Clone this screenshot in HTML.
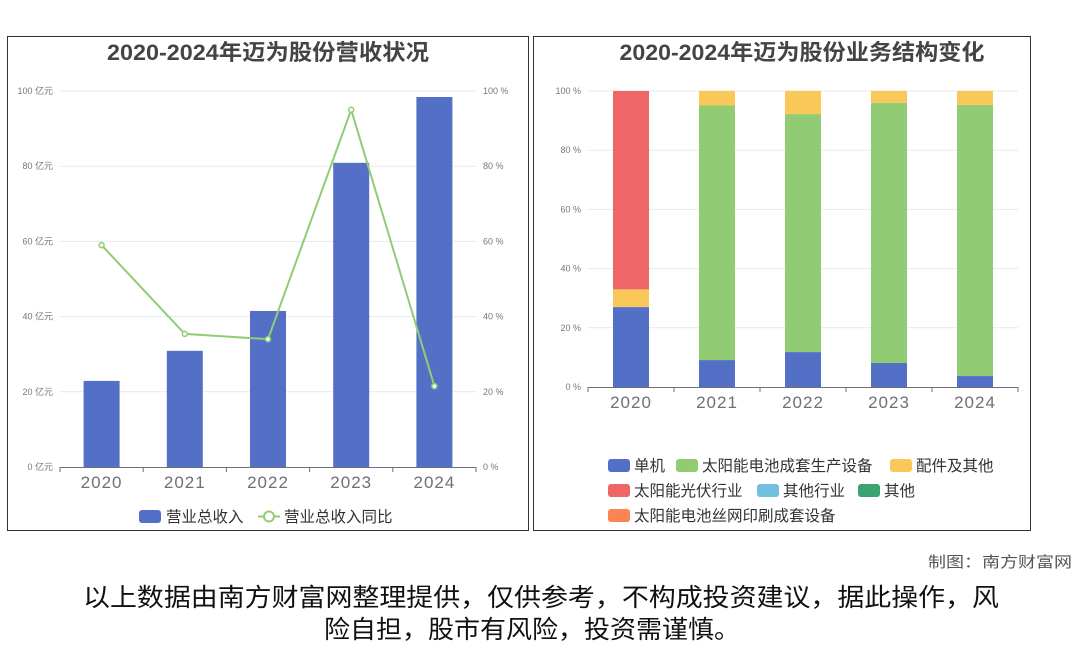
<!DOCTYPE html>
<html><head><meta charset="utf-8">
<style>
body{margin:0;background:#fff;width:1080px;height:646px;overflow:hidden;font-family:"Liberation Sans","Noto Sans CJK SC",sans-serif;}
svg text{font-family:"Liberation Sans","Noto Sans CJK SC",sans-serif;}
</style></head>
<body>
<svg id="c" width="1080" height="646" xmlns="http://www.w3.org/2000/svg">
<rect x="7.5" y="36.5" width="521" height="494" fill="none" stroke="#333" stroke-width="1"/>
<rect x="533.5" y="36.5" width="497" height="494" fill="none" stroke="#333" stroke-width="1"/>
<text x="268" y="60" text-anchor="middle" font-size="22" font-weight="bold" fill="#444" textLength="322" lengthAdjust="spacingAndGlyphs">2020-2024年迈为股份营收状况</text>
<text x="802" y="60" text-anchor="middle" font-size="22" font-weight="bold" fill="#444" textLength="365" lengthAdjust="spacingAndGlyphs">2020-2024年迈为股份业务结构变化</text>
<g id="L"></g><g id="R"></g>
<text x="1072" y="567" text-anchor="end" font-size="15" fill="#555" textLength="144" lengthAdjust="spacingAndGlyphs">制图：南方财富网</text>
<text x="541" y="606" text-anchor="middle" font-size="25" fill="#111" textLength="916" lengthAdjust="spacingAndGlyphs">以上数据由南方财富网整理提供，仅供参考，不构成投资建议，据此操作，风</text>
<text x="532" y="638" text-anchor="middle" font-size="25" fill="#111" textLength="416" lengthAdjust="spacingAndGlyphs">险自担，股市有风险，投资需谨慎。</text>
</svg>
<script>
const years=['2020','2021','2022','2023','2024'];
const revenue=[22.9,30.9,41.5,80.9,98.4];
const revenueYoY=[59.0,35.4,34.0,95.0,21.5];
const leftTicks=[0,20,40,60,80,100];
const shareStandalone=[27,9.1,11.8,8.1,3.7];
const shareCellEquipment=[0,86,80.4,87.9,91.6];
const shareParts=[6,4.9,7.8,4,4.7];
const sharePV=[67,0,0,0,0];
const rightTicks=[0,20,40,60,80,100];
const NS='http://www.w3.org/2000/svg';
function mk(p,t,a){const e=document.createElementNS(NS,t);for(const k in a)e.setAttribute(k,a[k]);p.appendChild(e);return e;}
// left chart
const L=document.getElementById('L');
const lx0=60,lx1=476,ly0=467,ly1=91;
const lx=i=>lx0+(lx1-lx0)/years.length*(i+0.5);
const ly=v=>ly0-(ly0-ly1)*v/100;
leftTicks.forEach(t=>{
 if(t>0){const g=mk(L,'line',{x1:lx0,x2:lx1,y1:ly(t),y2:ly(t),stroke:'#e6e9f2'});
 
 }
 const a=mk(L,'text',{x:lx0-7,y:ly(t)+3,'text-anchor':'end','font-size':9,fill:'#777'});a.textContent=t+' 亿元';
 
 
 const b=mk(L,'text',{x:lx1+7,y:ly(t)+3,'font-size':9,fill:'#777'});b.textContent=t+' %';
 
 
});
revenue.forEach((v,i)=>{
 const r=mk(L,'rect',{x:lx(i)-18,y:ly(v),width:36,height:ly0-ly(v),fill:'#5470c6'});
 
 
});
mk(L,'line',{x1:lx0,x2:lx1,y1:ly0+0.5,y2:ly0+0.5,stroke:'#6e7079'});
for(let i=0;i<=years.length;i++){const x=lx0+(lx1-lx0)/years.length*i;mk(L,'line',{x1:x,x2:x,y1:ly0,y2:ly0+5,stroke:'#6e7079'});}
years.forEach((y,i)=>{const t=mk(L,'text',{x:lx(i),y:ly0+21,'text-anchor':'middle','font-size':17,fill:'#6e7079','letter-spacing':1});t.textContent=y;
 
 });
const pl=mk(L,'polyline',{points:revenueYoY.map((v,i)=>lx(i)+','+ly(v)).join(' '),fill:'none',stroke:'#91cc75','stroke-width':2});


revenueYoY.forEach((v,i)=>{const c=mk(L,'circle',{cx:lx(i),cy:ly(v),r:2.5,fill:'#fff',stroke:'#91cc75','stroke-width':1.5});
 
 });
// left legend
let lg=mk(L,'rect',{x:139,y:510,width:22,height:13,rx:3,fill:'#5470c6'});


let lt=mk(L,'text',{x:166,y:522,'font-size':15.5,fill:'#333'});lt.textContent='营业总收入';
mk(L,'line',{x1:258,x2:280,y1:516.5,y2:516.5,stroke:'#91cc75','stroke-width':2});
lg=mk(L,'circle',{cx:269,cy:516.5,r:5,fill:'#fff',stroke:'#91cc75','stroke-width':2});


lt=mk(L,'text',{x:284,y:522,'font-size':15.5,fill:'#333'});lt.textContent='营业总收入同比';
// right chart
const R=document.getElementById('R');
const rx0=588,rx1=1018,ry0=387,ry1=91;
const rx=i=>rx0+(rx1-rx0)/years.length*(i+0.5);
const ry=v=>ry0-(ry0-ry1)*v/100;
rightTicks.forEach(t=>{
 if(t>0){const g=mk(R,'line',{x1:rx0,x2:rx1,y1:ry(t),y2:ry(t),stroke:'#e6e9f2'});
 
 }
 const a=mk(R,'text',{x:rx0-7,y:ry(t)+3,'text-anchor':'end','font-size':9,fill:'#777'});a.textContent=t+' %';
 
 
});
const series=[[shareStandalone,'#5470c6','standalone'],[shareCellEquipment,'#91cc75','cell-equipment'],[shareParts,'#fac858','parts'],[sharePV,'#ee6666','pv']];
years.forEach((y,i)=>{let acc=0;series.forEach(s=>{const v=s[0][i];if(v>0){
 const r=mk(R,'rect',{x:rx(i)-18,y:ry(acc+v),width:36,height:ry(acc)-ry(acc+v),fill:s[1]});
 
 }
 acc+=v;});});
mk(R,'line',{x1:rx0,x2:rx1,y1:ry0+0.5,y2:ry0+0.5,stroke:'#6e7079'});
for(let i=0;i<=years.length;i++){const x=rx0+(rx1-rx0)/years.length*i;mk(R,'line',{x1:x,x2:x,y1:ry0,y2:ry0+5,stroke:'#6e7079'});}
years.forEach((y,i)=>{const t=mk(R,'text',{x:rx(i),y:ry0+21,'text-anchor':'middle','font-size':17,fill:'#6e7079','letter-spacing':1});t.textContent=y;
 
 });
const legendItems=[['单机','#5470c6',608,466],['太阳能电池成套生产设备','#91cc75',676,466],['配件及其他','#fac858',890,466],['太阳能光伏行业','#ee6666',608,491],['其他行业','#73c0de',757,491],['其他','#3ba272',858,491],['太阳能电池丝网印刷成套设备','#fc8452',608,516]];
legendItems.forEach(it=>{
 const r=mk(R,'rect',{x:it[2],y:it[3]-7,width:22,height:13,rx:3,fill:it[1]});
 
 
 const t=mk(R,'text',{x:it[2]+26,y:it[3]+5,'font-size':15.5,fill:'#333'});t.textContent=it[0];
 
 
});
</script>
</body></html>
